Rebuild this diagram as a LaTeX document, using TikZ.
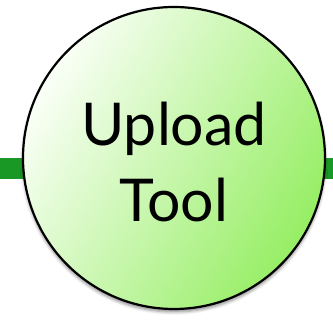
\documentclass[tikz,border=0pt]{standalone}
\usepackage{fontspec}
\setmainfont{Lato}
\usetikzlibrary{shadows.blur}
\definecolor{linkgreen}{RGB}{26,152,38}
\definecolor{lightend}{RGB}{250,255,247}
\definecolor{darkend}{RGB}{150,238,100}
\tikzset{
  link/.style={draw=linkgreen, line width=21pt},
  toolcircle/.style={circle, draw=black, line width=2.2pt, minimum size=302pt,
    top color=lightend, bottom color=darkend, shading angle=60,
    blur shadow={shadow xshift=0pt, shadow yshift=-3pt, shadow blur radius=3pt, shadow opacity=45}},
  labeltext/.style={font=\fontsize{59}{76}\selectfont, align=center, inner sep=0pt}
}
\begin{document}
\begin{tikzpicture}[x=1pt,y=-1pt]
\useasboundingbox (0,0) rectangle (333,331);
\coordinate (lstart) at (0,168.5);
\coordinate (rend) at (333,168.5);
\coordinate (cc) at (174,158);
\path[link] (lstart) -- (cc |- lstart);
\path[link] (cc |- rend) -- (rend);
\node[toolcircle] (tool) at (cc) {};
\node[labeltext] (label) at (174,162) {Upload\\Tool};
\end{tikzpicture}
\end{document}
